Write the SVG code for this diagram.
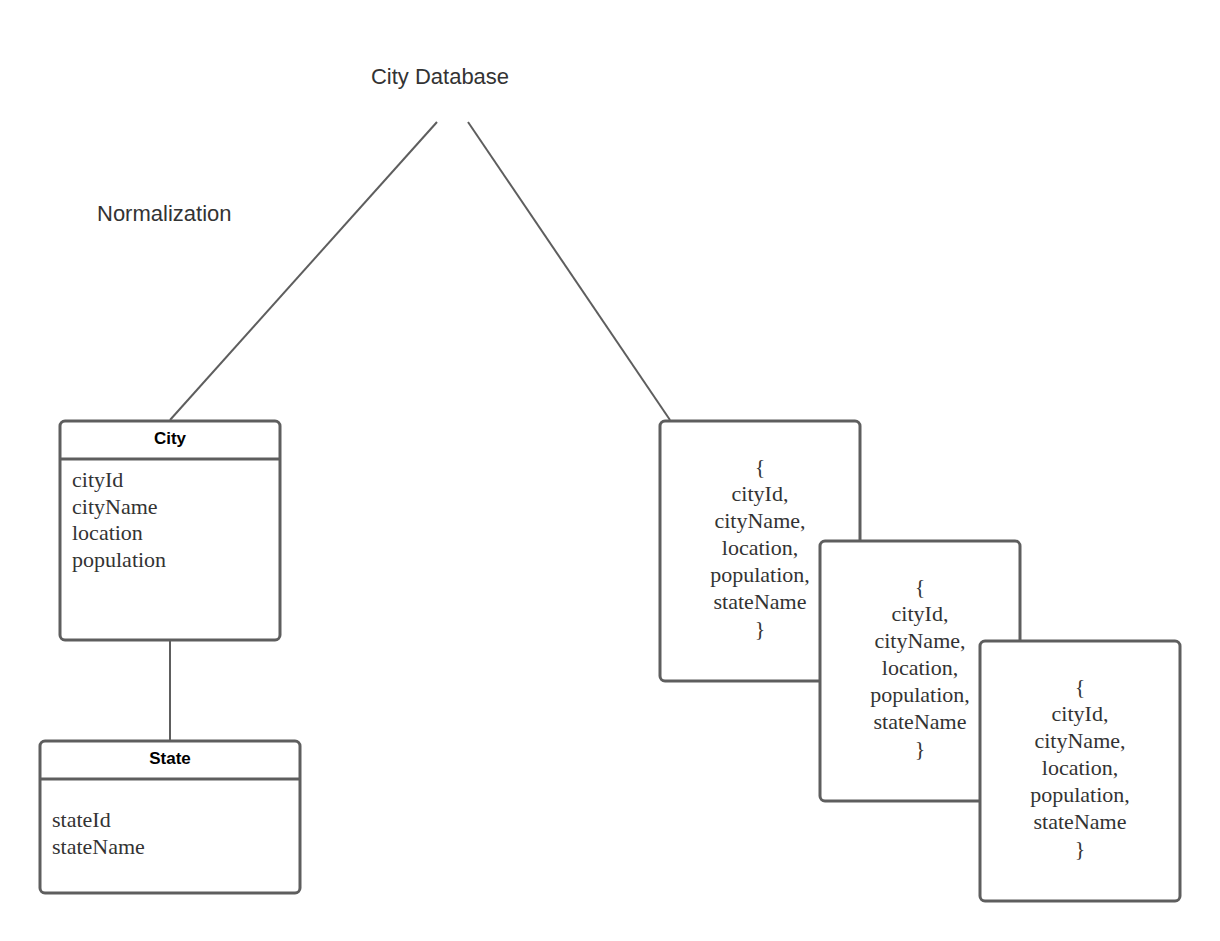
<svg xmlns="http://www.w3.org/2000/svg" width="1220" height="941" viewBox="0 0 1220 941">
<style>
.box{fill:#ffffff;stroke:#5e5e5e;stroke-width:3}
.div{stroke:#5e5e5e;stroke-width:3}
.conn{stroke:#5e5e5e;stroke-width:2;fill:none}
.hdr{font-family:"Liberation Sans",Arial,sans-serif;font-size:17px;font-weight:bold;fill:#000;text-anchor:middle}
.attr{font-family:"Liberation Serif","Times New Roman",serif;font-size:22px;fill:#333}
.doc{font-family:"Liberation Serif","Times New Roman",serif;font-size:22px;fill:#333;text-anchor:middle}
.lbl{font-family:"Liberation Sans",Arial,sans-serif;font-size:22px;fill:#333}
</style>
<rect width="1220" height="941" fill="#ffffff"/>
<g id="connectors">
<line class="conn" x1="437" y1="122" x2="170" y2="420"/>
<line class="conn" x1="468" y1="122" x2="670" y2="420"/>
<line class="conn" x1="170" y1="641" x2="170" y2="741"/>
</g>
<g id="title"><text class="lbl" x="440" y="84" text-anchor="middle">City Database</text></g>
<g id="normalization"><text class="lbl" x="97" y="221">Normalization</text></g>
<g id="city">
<rect class="box" x="60" y="421" width="220" height="219" rx="5"/>
<line class="div" x1="60" y1="459" x2="280" y2="459"/>
<text class="hdr" x="170" y="444">City</text>
<text class="attr" x="72" y="487">cityId</text>
<text class="attr" x="72" y="514">cityName</text>
<text class="attr" x="72" y="540">location</text>
<text class="attr" x="72" y="567">population</text>
</g>
<g id="state">
<rect class="box" x="40" y="741" width="260" height="152" rx="5"/>
<line class="div" x1="40" y1="779" x2="300" y2="779"/>
<text class="hdr" x="170" y="764">State</text>
<text class="attr" x="52" y="827">stateId</text>
<text class="attr" x="52" y="854">stateName</text>
</g>
<g id="doc1">
<rect class="box" x="660" y="421" width="200" height="260" rx="5"/>
<text class="doc" x="760" y="474">{</text>
<text class="doc" x="760" y="501">cityId,</text>
<text class="doc" x="760" y="528">cityName,</text>
<text class="doc" x="760" y="555">location,</text>
<text class="doc" x="760" y="582">population,</text>
<text class="doc" x="760" y="609">stateName</text>
<text class="doc" x="760" y="636">}</text>
</g>
<g id="doc2">
<rect class="box" x="820" y="541" width="200" height="260" rx="5"/>
<text class="doc" x="920" y="594">{</text>
<text class="doc" x="920" y="621">cityId,</text>
<text class="doc" x="920" y="648">cityName,</text>
<text class="doc" x="920" y="675">location,</text>
<text class="doc" x="920" y="702">population,</text>
<text class="doc" x="920" y="729">stateName</text>
<text class="doc" x="920" y="756">}</text>
</g>
<g id="doc3">
<rect class="box" x="980" y="641" width="200" height="260" rx="5"/>
<text class="doc" x="1080" y="694">{</text>
<text class="doc" x="1080" y="721">cityId,</text>
<text class="doc" x="1080" y="748">cityName,</text>
<text class="doc" x="1080" y="775">location,</text>
<text class="doc" x="1080" y="802">population,</text>
<text class="doc" x="1080" y="829">stateName</text>
<text class="doc" x="1080" y="856">}</text>
</g>
</svg>
